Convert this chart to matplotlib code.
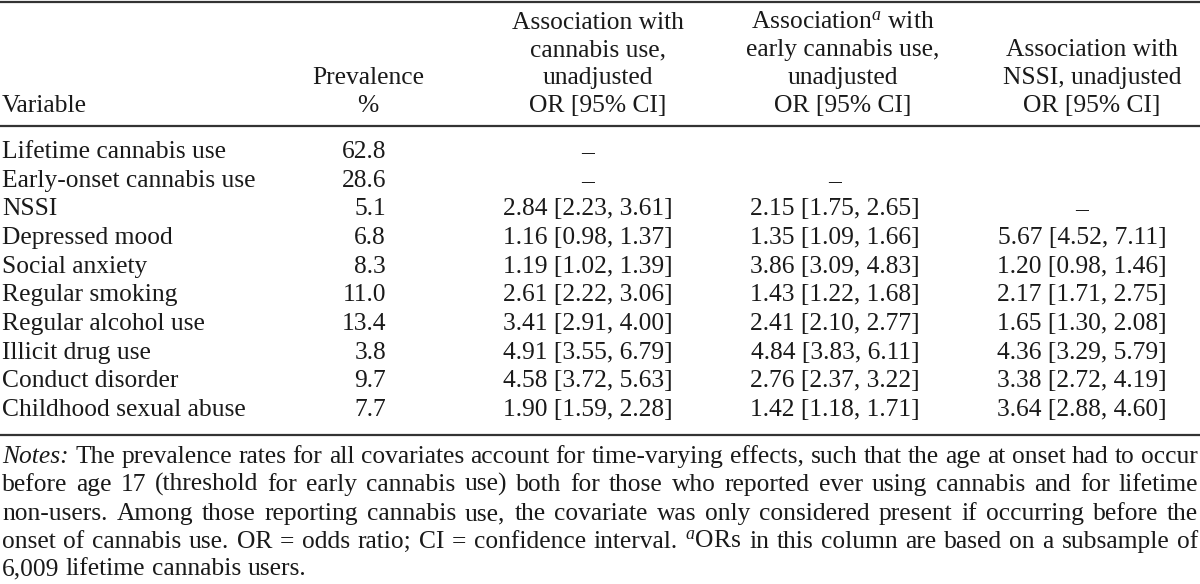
import matplotlib
matplotlib.use("Agg")
import matplotlib.pyplot as plt

plt.rcParams['font.family'] = ['Liberation Serif', 'DejaVu Serif']
plt.rcParams['mathtext.fontset'] = 'custom'
plt.rcParams['mathtext.rm'] = 'Liberation Serif'
plt.rcParams['mathtext.it'] = 'Liberation Serif:italic'

# table data
variables = ["Lifetime cannabis use", "Early-onset cannabis use", "NSSI", "Depressed mood",
             "Social anxiety", "Regular smoking", "Regular alcohol use", "Illicit drug use",
             "Conduct disorder", "Childhood sexual abuse"]
prevalence = ["62.8", "28.6", "5.1", "6.8", "8.3", "11.0", "13.4", "3.8", "9.7", "7.7"]
or_cannabis = ["–", "–", "2.84 [2.23, 3.61]", "1.16 [0.98, 1.37]", "1.19 [1.02, 1.39]",
               "2.61 [2.22, 3.06]", "3.41 [2.91, 4.00]", "4.91 [3.55, 6.79]",
               "4.58 [3.72, 5.63]", "1.90 [1.59, 2.28]"]
or_early = ["", "–", "2.15 [1.75, 2.65]", "1.35 [1.09, 1.66]", "3.86 [3.09, 4.83]",
            "1.43 [1.22, 1.68]", "2.41 [2.10, 2.77]", "4.84 [3.83, 6.11]",
            "2.76 [2.37, 3.22]", "1.42 [1.18, 1.71]"]
or_nssi = ["", "", "–", "5.67 [4.52, 7.11]", "1.20 [0.98, 1.46]", "2.17 [1.71, 2.75]",
           "1.65 [1.30, 2.08]", "4.36 [3.29, 5.79]", "3.38 [2.72, 4.19]", "3.64 [2.88, 4.60]"]

headers = [
    ["Variable"],
    ["Prevalence", "%"],
    ["Association with", "cannabis use,", "unadjusted", "OR [95% CI]"],
    [r"Association$^{a}$ with", "early cannabis use,", "unadjusted", "OR [95% CI]"],
    ["Association with", "NSSI, unadjusted", "OR [95% CI]"],
]

notes_lines = [
    "The prevalence rates for all covariates account for time-varying effects, such that the age at onset had to occur",
    "before age 17 (threshold for early cannabis use) both for those who reported ever using cannabis and for lifetime",
    "non-users. Among those reporting cannabis use, the covariate was only considered present if occurring before the",
    r"onset of cannabis use. OR = odds ratio; CI = confidence interval. $^{a}$ORs in this column are based on a subsample of",
    "6,009 lifetime cannabis users.",
]

FS = 18.4
TXT = "#1a1a1a"

fig = plt.figure(figsize=(12, 5.84), dpi=100)
ax = fig.add_axes([0, 0, 1, 1])
ax.set_xlim(0, 1200)
ax.set_ylim(584, 0)
ax.axis("off")

# rules
ax.hlines([2, 126, 435], 0, 1200, color="#333333", lw=1.6)

# header
hdr_x = [2, 368, 598, 843, 1092]
hdr_ha = ["left", "center", "center", "center", "center"]
hdr_base = [29, 56, 84, 112]
for col, lines in enumerate(headers):
    start = len(hdr_base) - len(lines)
    for k, s in enumerate(lines):
        ax.text(hdr_x[col], hdr_base[start + k], s, ha=hdr_ha[col], va="baseline",
                fontsize=FS, color=TXT)

# rows
row_base = [158, 187, 215, 244, 273, 301, 330, 359, 387, 416]
col_x = [588, 835, 1082]
for i, var in enumerate(variables):
    y = row_base[i]
    ax.text(2, y, var, ha="left", va="baseline", fontsize=FS, color=TXT)
    ax.text(386, y, prevalence[i], ha="right", va="baseline", fontsize=FS, color=TXT)
    for cx, vals in zip(col_x, [or_cannabis, or_early, or_nssi]):
        if vals[i]:
            ax.text(cx, y, vals[i], ha="center", va="baseline", fontsize=FS, color=TXT)

# notes, justified
note_base = [463, 491, 520, 548, 575]
renderer = fig.canvas.get_renderer()
left, right = 2, 1198


def width_of(s, style):
    t = ax.text(0, 0, s, fontsize=FS, style=style)
    w = t.get_window_extent(renderer).width
    t.remove()
    return w


for li, line in enumerate(notes_lines):
    words = [(w, "normal") for w in line.split(" ")]
    if li == 0:
        words = [("Notes:", "italic")] + words
    y = note_base[li]
    widths = [width_of(w, st) for w, st in words]
    if li < len(notes_lines) - 1:
        gap = (right - left - sum(widths)) / (len(words) - 1)
    else:
        gap = width_of("a b", "normal") - width_of("ab", "normal")
    x = left
    for (w, st), wd in zip(words, widths):
        ax.text(x, y, w, ha="left", va="baseline", fontsize=FS, style=st, color=TXT)
        x += wd + gap

fig.savefig("out.png", dpi=100, facecolor="white")
